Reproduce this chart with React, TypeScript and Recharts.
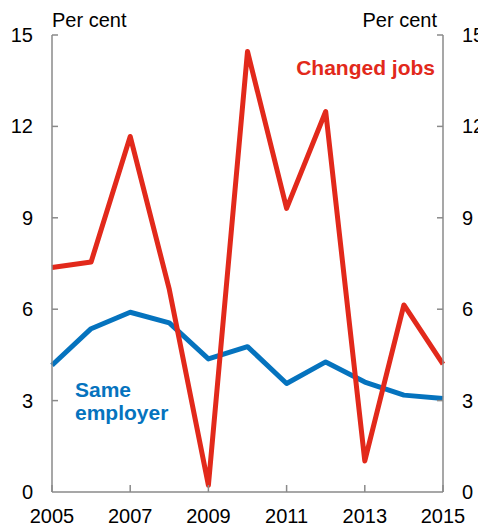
import React from 'react';
import { LineChart, Line, XAxis, YAxis } from 'recharts';

const years = [2005, 2006, 2007, 2008, 2009, 2010, 2011, 2012, 2013, 2014, 2015];
const changedJobs = [7.37, 7.55, 11.67, 6.65, 0.22, 14.46, 9.31, 12.49, 1.02, 6.14, 4.2];
const sameEmployer = [4.16, 5.36, 5.9, 5.55, 4.37, 4.77, 3.56, 4.27, 3.61, 3.18, 3.07];
const yTicks = [0, 3, 6, 9, 12, 15];
const xTicks = [2005, 2007, 2009, 2011, 2013, 2015];

const data = years.map((y, i) => ({ year: y, changed: changedJobs[i], same: sameEmployer[i] }));

const FONT = '"Liberation Sans", Arial, sans-serif';
const AXIS = '#8a8a8a';
const RED = '#E2291B';
const BLUE = '#0573BE';

const LeftTick = (props: any) => {
  const { x, y, payload } = props;
  return (
    <g>
      {payload.value !== 0 && <line x1={x} x2={x + 6} y1={y} y2={y} stroke={AXIS} strokeWidth={1.5} />}
      <text x={x - 19} y={y} dy={7} textAnchor="end" fontFamily={FONT} fontSize={20} fill="#000">
        {payload.value}
      </text>
    </g>
  );
};

const RightTick = (props: any) => {
  const { x, y, payload } = props;
  return (
    <g>
      {payload.value !== 0 && <line x1={x - 6} x2={x} y1={y} y2={y} stroke={AXIS} strokeWidth={1.5} />}
      <text x={x + 19} y={y} dy={7} textAnchor="start" fontFamily={FONT} fontSize={20} fill="#000">
        {payload.value}
      </text>
    </g>
  );
};

const BottomTick = (props: any) => {
  const { x, y, payload } = props;
  return (
    <g>
      <line x1={x} x2={x} y1={y - 7} y2={y} stroke={AXIS} strokeWidth={1.5} />
      <text x={x} y={y + 31} textAnchor="middle" fontFamily={FONT} fontSize={20} fill="#000">
        {payload.value}
      </text>
    </g>
  );
};

export default function App() {
  return (
    <div style={{ position: 'absolute', left: 0, top: 0, width: 478, height: 529, background: '#fff' }}>
      <LineChart width={478} height={529} data={data} margin={{ top: 35, right: 0, bottom: 0, left: 0 }}>
        <XAxis
          dataKey="year"
          type="number"
          domain={[2005, 2015]}
          ticks={xTicks}
          height={37}
          tickSize={0}
          tickMargin={0}
          axisLine={{ stroke: AXIS, strokeWidth: 1.5 }}
          tickLine={false}
          tick={<BottomTick />}
          interval={0}
        />
        <YAxis
          yAxisId="left"
          domain={[0, 15]}
          ticks={yTicks}
          width={52}
          tickSize={0}
          tickMargin={0}
          axisLine={{ stroke: AXIS, strokeWidth: 1.5 }}
          tickLine={false}
          tick={<LeftTick />}
          interval={0}
        />
        <YAxis
          yAxisId="right"
          orientation="right"
          domain={[0, 15]}
          ticks={yTicks}
          width={35}
          tickSize={0}
          tickMargin={0}
          axisLine={{ stroke: AXIS, strokeWidth: 1.5 }}
          tickLine={false}
          tick={<RightTick />}
          interval={0}
        />
        <Line yAxisId="right" type="linear" dataKey="same" stroke={BLUE} strokeWidth={5} dot={false} isAnimationActive={false} strokeLinejoin="round" />
        <Line yAxisId="left" type="linear" dataKey="changed" stroke={RED} strokeWidth={5} dot={false} isAnimationActive={false} strokeLinejoin="round" />
      </LineChart>
      <svg width={478} height={529} style={{ position: 'absolute', left: 0, top: 0, pointerEvents: 'none' }}>
        <text x={52} y={27} fontFamily={FONT} fontSize={20} fill="#000">Per cent</text>
        <text x={437} y={27} textAnchor="end" fontFamily={FONT} fontSize={20} fill="#000">Per cent</text>
        <text x={435} y={75} textAnchor="end" fontFamily={FONT} fontSize={21} fontWeight="bold" fill={RED}>Changed jobs</text>
        <text x={75} y={397} fontFamily={FONT} fontSize={21} fontWeight="bold" fill={BLUE}>Same</text>
        <text x={75} y={420} fontFamily={FONT} fontSize={21} fontWeight="bold" fill={BLUE}>employer</text>
      </svg>
    </div>
  );
}
